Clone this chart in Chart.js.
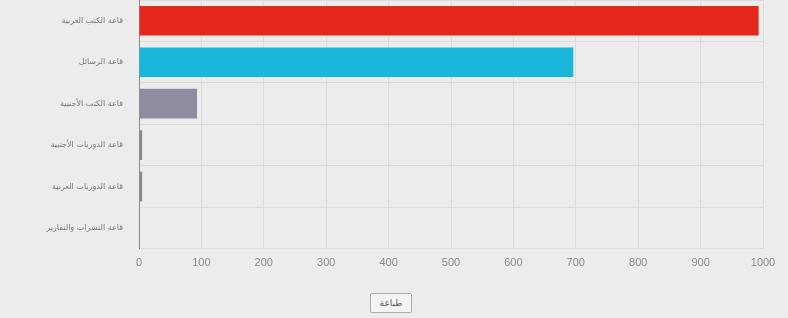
<!DOCTYPE html>
<html lang="ar">
<head>
  <meta charset="utf-8">
  <title>الإحصائيات</title>
  <script src="https://cdn.jsdelivr.net/npm/chart.js@4.4.0/dist/chart.umd.min.js"></script>
  <style>
  html, body { margin: 0; padding: 0; background: #ececec; }
  .wrap { position: relative; width: 788px; height: 318px; overflow: hidden; }
  .chart-container { position: absolute; left: 0; top: 0; width: 788px; height: 278px; }
  #printBtn {
    position: absolute; left: 370px; top: 293px; width: 42px; height: 20px;
    font: 9px "DejaVu Sans", sans-serif; color: #555; background: #f4f4f4;
    border: 1px solid #aaa; border-radius: 2px; padding: 0;
  }
  </style>
</head>
<body>
<div class="wrap">
  <div class="chart-container">
    <canvas id="canvas"></canvas>
  </div>
  <button id="printBtn">طباعة</button>
</div>

<script>
  var halls = ['قاعة الكتب العربية', 'قاعة الرسائل', 'قاعة الكتب الأجنبية', 'قاعة الدوريات الأجنبية', 'قاعة الدوريات العربية', 'قاعة النشرات والتقارير'];
  var counts = [993, 696, 93, 5, 5, 0];
  var barColors = ['#e6281c', '#19b7da', '#8f8ba0', '#8a8a8a', '#8a8a8a', '#8a8a8a'];
  var xTicks = [0, 100, 200, 300, 400, 500, 600, 700, 800, 900, 1000];

  window.onload = function() {
    var ctx = document.getElementById('canvas').getContext('2d');
    window.myBar = new Chart(ctx, {
      type: 'bar',
      data: {
        labels: halls,
        datasets: [{
          data: counts,
          backgroundColor: barColors,
          borderWidth: 0,
          categoryPercentage: 0.84,
          barPercentage: 0.85
        }]
      },
      options: {
        indexAxis: 'y',
        responsive: true,
        maintainAspectRatio: false,
        animation: false,
        layout: { padding: { top: 0, right: 25, bottom: 0, left: 0 } },
        plugins: { legend: { display: false }, tooltip: { enabled: false } },
        scales: {
          x: {
            min: 0, max: 1000,
            afterBuildTicks: function(axis) {
              axis.ticks = xTicks.map(function(v) { return { value: v }; });
            },
            grid: { color: '#dcdcdc', drawTicks: false },
            border: { display: false },
            ticks: {
              color: '#8a8a8a', padding: 8, font: { family: 'Liberation Sans', size: 11 },
              callback: function(v) { return String(v); }
            }
          },
          y: {
            afterFit: function(axis) {
              axis.width = 139;
              axis.paddingTop = 0;
              axis.paddingBottom = 0;
            },
            grid: { color: '#dcdcdc', drawTicks: false, offset: true },
            border: { color: '#8a8a8a', width: 1 },
            ticks: { color: '#777', padding: 16, font: { family: 'DejaVu Sans', size: 8 } }
          }
        }
      }
    });
  };
</script>
</body>
</html>
